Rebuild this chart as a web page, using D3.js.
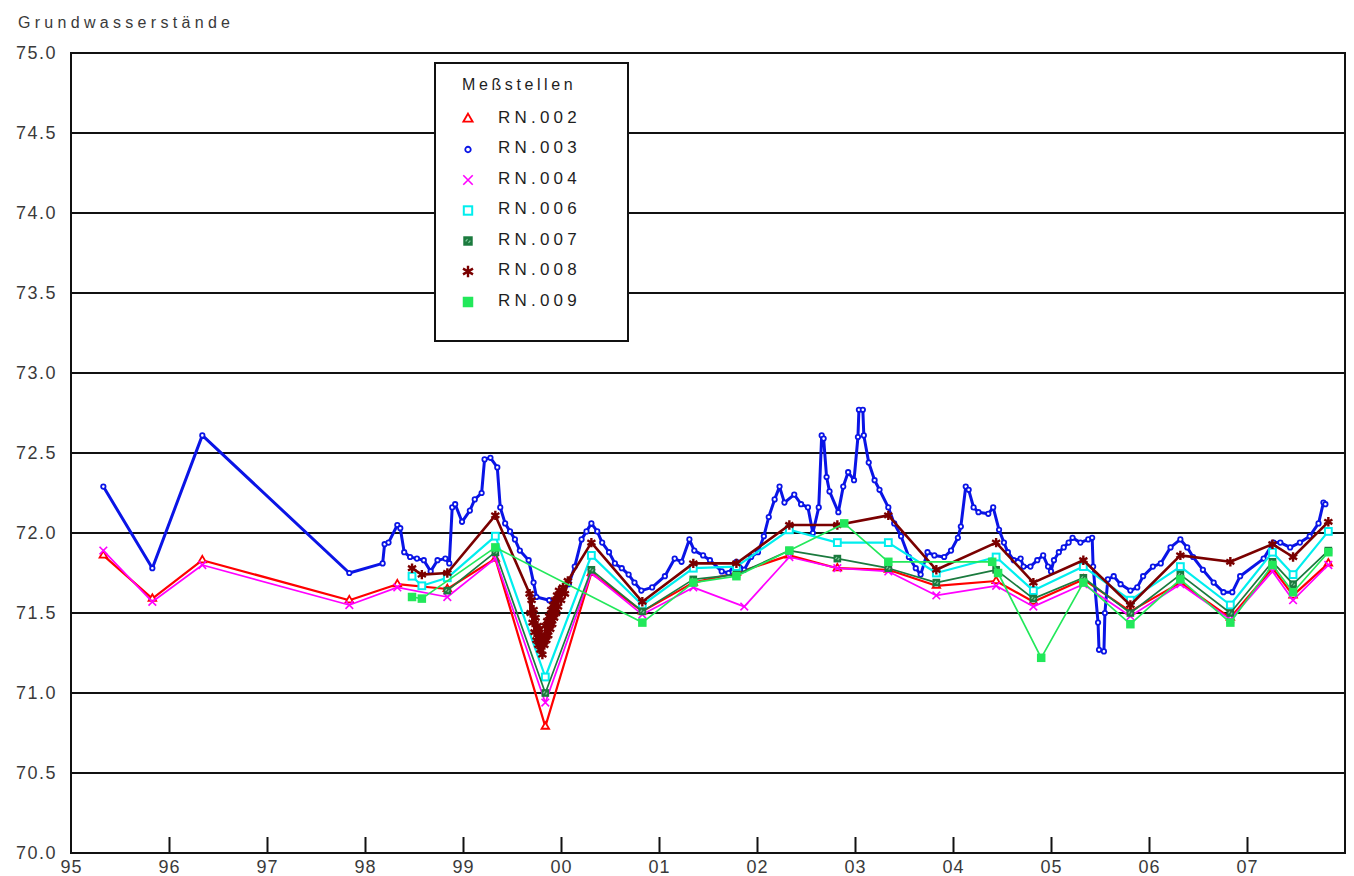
<!DOCTYPE html>
<html>
<head>
<meta charset="utf-8">
<script src="https://cdn.jsdelivr.net/npm/d3@7"></script>
<style>
  html, body { margin: 0; padding: 0; background: #fff; }
  svg { display: block; }
  text { font-family: "Liberation Sans", Arial, sans-serif; }
</style>
</head>
<body>
<svg id="chart" width="1354" height="876"></svg>
<script>
// Groundwater levels per measuring point: [decimal year, level]
const rn002 = [[1995.33,71.86],[1995.83,71.59],[1996.34,71.83],[1997.84,71.58],[1998.33,71.68],[1998.84,71.65],[1999.33,71.84],[1999.84,70.79],[2000.31,71.75],[2000.83,71.51],[2001.35,71.69],[2001.79,71.75],[2002.33,71.86],[2002.82,71.78],[2003.34,71.77],[2003.83,71.67],[2004.44,71.70],[2004.82,71.57],[2005.33,71.71],[2005.81,71.51],[2006.32,71.69],[2006.83,71.47],[2007.26,71.78],[2007.47,71.61],[2007.83,71.81]];

const rn003 = [[1995.33,72.29],[1995.83,71.78],[1996.34,72.61],[1997.84,71.75],[1998.18,71.81],[1998.20,71.93],[1998.24,71.94],[1998.33,72.05],[1998.36,72.03],[1998.40,71.88],[1998.46,71.85],[1998.53,71.84],[1998.60,71.83],[1998.67,71.76],[1998.74,71.83],[1998.82,71.84],[1998.86,71.81],[1998.89,72.16],[1998.92,72.18],[1998.99,72.07],[1999.07,72.14],[1999.12,72.21],[1999.19,72.25],[1999.22,72.46],[1999.28,72.47],[1999.35,72.41],[1999.38,72.16],[1999.43,72.06],[1999.48,72.01],[1999.53,71.96],[1999.58,71.89],[1999.67,71.83],[1999.72,71.69],[1999.75,71.60],[1999.88,71.58],[1999.94,71.57],[2000.01,71.63],[2000.08,71.68],[2000.14,71.79],[2000.21,71.96],[2000.26,72.01],[2000.31,72.06],[2000.37,72.01],[2000.42,71.94],[2000.49,71.88],[2000.55,71.81],[2000.62,71.78],[2000.69,71.74],[2000.75,71.69],[2000.82,71.64],[2000.93,71.66],[2001.06,71.73],[2001.16,71.84],[2001.23,71.82],[2001.31,71.96],[2001.36,71.89],[2001.45,71.86],[2001.52,71.83],[2001.64,71.76],[2001.71,71.75],[2001.79,71.82],[2001.87,71.77],[2001.94,71.85],[2002.01,71.88],[2002.07,71.98],[2002.12,72.10],[2002.18,72.21],[2002.23,72.29],[2002.28,72.19],[2002.38,72.24],[2002.45,72.18],[2002.52,72.16],[2002.57,72.00],[2002.63,72.16],[2002.66,72.61],[2002.68,72.59],[2002.71,72.35],[2002.74,72.26],[2002.83,72.13],[2002.88,72.29],[2002.93,72.38],[2002.99,72.33],[2003.03,72.60],[2003.04,72.77],[2003.08,72.77],[2003.09,72.61],[2003.14,72.44],[2003.20,72.33],[2003.25,72.27],[2003.34,72.16],[2003.40,72.06],[2003.47,71.98],[2003.55,71.85],[2003.62,71.78],[2003.67,71.74],[2003.74,71.88],[2003.81,71.86],[2003.91,71.85],[2003.98,71.89],[2004.05,71.97],[2004.08,72.04],[2004.13,72.29],[2004.16,72.27],[2004.21,72.16],[2004.26,72.13],[2004.36,72.12],[2004.41,72.16],[2004.47,72.02],[2004.52,71.94],[2004.56,71.88],[2004.62,71.83],[2004.69,71.84],[2004.72,71.79],[2004.79,71.79],[2004.86,71.83],[2004.92,71.86],[2004.97,71.79],[2005.00,71.76],[2005.03,71.83],[2005.08,71.88],[2005.13,71.91],[2005.18,71.94],[2005.22,71.97],[2005.30,71.94],[2005.38,71.96],[2005.42,71.97],[2005.43,71.79],[2005.48,71.44],[2005.49,71.27],[2005.54,71.26],[2005.55,71.50],[2005.58,71.71],[2005.64,71.73],[2005.71,71.68],[2005.81,71.64],[2005.88,71.66],[2005.94,71.73],[2006.04,71.79],[2006.12,71.81],[2006.22,71.91],[2006.32,71.96],[2006.39,71.91],[2006.45,71.85],[2006.55,71.77],[2006.66,71.69],[2006.76,71.63],[2006.85,71.63],[2006.93,71.73],[2007.17,71.84],[2007.27,71.94],[2007.34,71.94],[2007.44,71.91],[2007.54,71.94],[2007.64,71.98],[2007.73,72.06],[2007.78,72.19],[2007.80,72.18]];

const rn004 = [[1995.33,71.89],[1995.83,71.57],[1996.34,71.80],[1997.84,71.55],[1998.33,71.66],[1998.84,71.60],[1999.33,71.84],[1999.84,70.94],[2000.31,71.75],[2000.83,71.49],[2001.35,71.66],[2001.87,71.54],[2002.33,71.85],[2002.82,71.78],[2003.34,71.76],[2003.83,71.61],[2004.44,71.67],[2004.82,71.54],[2005.33,71.68],[2005.81,71.48],[2006.32,71.68],[2006.83,71.46],[2007.26,71.76],[2007.47,71.58],[2007.83,71.80]];

const rn006 = [[1998.48,71.73],[1998.58,71.67],[1998.84,71.72],[1999.33,71.98],[1999.84,71.10],[2000.31,71.86],[2000.83,71.55],[2001.35,71.78],[2001.79,71.79],[2002.33,72.02],[2002.82,71.94],[2003.34,71.94],[2003.83,71.75],[2004.44,71.85],[2004.82,71.64],[2005.33,71.79],[2005.81,71.58],[2006.32,71.79],[2006.83,71.55],[2007.26,71.88],[2007.47,71.74],[2007.83,72.01]];

const rn007 = [[1998.84,71.64],[1999.33,71.88],[1999.84,71.00],[2000.31,71.77],[2000.83,71.51],[2001.35,71.71],[2001.79,71.74],[2002.33,71.89],[2002.82,71.84],[2003.34,71.78],[2003.83,71.69],[2004.44,71.77],[2004.82,71.59],[2005.33,71.72],[2005.81,71.50],[2006.32,71.74],[2006.83,71.50],[2007.26,71.82],[2007.47,71.68],[2007.83,71.89]];

const rn008 = [[1998.48,71.78],[1998.58,71.74],[1998.84,71.75],[1999.33,72.11],[1999.68,71.62],[1999.69,71.50],[1999.70,71.58],[1999.71,71.44],[1999.72,71.52],[1999.73,71.38],[1999.74,71.47],[1999.75,71.33],[1999.76,71.42],[1999.77,71.30],[1999.78,71.40],[1999.79,71.27],[1999.80,71.36],[1999.81,71.24],[1999.82,71.35],[1999.83,71.30],[1999.84,71.42],[1999.85,71.33],[1999.86,71.45],[1999.87,71.36],[1999.88,71.48],[1999.89,71.40],[1999.90,71.52],[1999.91,71.43],[1999.92,71.55],[1999.93,71.47],[1999.94,71.58],[1999.95,71.50],[1999.96,71.61],[1999.97,71.54],[1999.98,71.64],[2000.00,71.58],[2000.02,71.66],[2000.04,71.62],[2000.07,71.70],[2000.31,71.94],[2000.83,71.57],[2001.35,71.81],[2001.79,71.81],[2002.33,72.05],[2002.82,72.05],[2003.34,72.11],[2003.83,71.77],[2004.44,71.94],[2004.82,71.69],[2005.33,71.83],[2005.81,71.55],[2006.32,71.86],[2006.83,71.82],[2007.26,71.93],[2007.47,71.85],[2007.83,72.07]];

const rn009 = [[1998.48,71.60],[1998.58,71.59],[1999.33,71.91],[2000.83,71.44],[2001.35,71.69],[2001.79,71.73],[2002.33,71.89],[2002.89,72.06],[2003.34,71.82],[2004.40,71.82],[2004.46,71.75],[2004.90,71.22],[2005.33,71.69],[2005.81,71.43],[2006.32,71.71],[2006.83,71.44],[2007.26,71.80],[2007.47,71.63],[2007.83,71.88]];

const stationNames = ["RN.002", "RN.003", "RN.004", "RN.006", "RN.007", "RN.008", "RN.009"];
const yearTicks = [1995, 1996, 1997, 1998, 1999, 2000, 2001, 2002, 2003, 2004, 2005, 2006, 2007];
const yearLabels = ["95", "96", "97", "98", "99", "00", "01", "02", "03", "04", "05", "06", "07"];
const levelTicks = [70.0, 70.5, 71.0, 71.5, 72.0, 72.5, 73.0, 73.5, 74.0, 74.5, 75.0];

const series = [
  { name: stationNames[0], data: rn002, color: "#ff0000", width: 2.2, marker: "triangle" },
  { name: stationNames[1], data: rn003, color: "#0a14e6", width: 3,   marker: "circle" },
  { name: stationNames[2], data: rn004, color: "#ff00ff", width: 1.7, marker: "x" },
  { name: stationNames[3], data: rn006, color: "#00eeee", width: 2.2, marker: "openSquare" },
  { name: stationNames[4], data: rn007, color: "#1b7a3e", width: 1.7, marker: "patternSquare" },
  { name: stationNames[5], data: rn008, color: "#7a0000", width: 2.6, marker: "star" },
  { name: stationNames[6], data: rn009, color: "#22e85a", width: 1.7, marker: "filledSquare" }
];

const plot = { left: 71, right: 1345, top: 53, bottom: 853 };
const svg = d3.select("#chart");

const x = d3.scaleLinear().domain([1995, 2008]).range([plot.left, plot.right]);
const y = d3.scaleLinear().domain([70, 75]).range([plot.bottom, plot.top]);

const labelFont = "Liberation Sans, Arial, sans-serif";

// horizontal grid lines
svg.append("g")
  .selectAll("line")
  .data(levelTicks.filter(v => v > 70 && v < 75))
  .join("line")
  .attr("x1", plot.left).attr("x2", plot.right)
  .attr("y1", d => y(d)).attr("y2", d => y(d))
  .attr("stroke", "#111").attr("stroke-width", 2);

// frame
svg.append("rect")
  .attr("x", plot.left).attr("y", plot.top)
  .attr("width", plot.right - plot.left).attr("height", plot.bottom - plot.top)
  .attr("fill", "none").attr("stroke", "#111").attr("stroke-width", 2);

// x axis: inward ticks with two-digit year labels
const xAxis = d3.axisBottom(x)
  .tickValues(yearTicks)
  .tickFormat((d, i) => yearLabels[i])
  .tickSizeInner(-16).tickSizeOuter(0).tickPadding(0);
const gx = svg.append("g").attr("transform", `translate(0,${plot.bottom})`).call(xAxis);
gx.select(".domain").remove();
gx.selectAll(".tick line").attr("stroke", "#111").attr("stroke-width", 2)
  .attr("display", d => d === 1995 ? "none" : null);
gx.selectAll(".tick text")
  .attr("font-family", labelFont).attr("font-size", 18)
  .attr("fill", "#3a3a3a").attr("letter-spacing", 1)
  .attr("y", 20).attr("dy", 0);

// y axis labels
const yAxis = d3.axisLeft(y)
  .tickValues(levelTicks)
  .tickFormat(d3.format(".1f"))
  .tickSize(0).tickPadding(14);
const gy = svg.append("g").attr("transform", `translate(${plot.left},0)`).call(yAxis);
gy.select(".domain").remove();
gy.selectAll(".tick text")
  .attr("font-family", labelFont).attr("font-size", 18)
  .attr("fill", "#3a3a3a").attr("letter-spacing", 1.5);

// title
svg.append("text")
  .attr("x", 18).attr("y", 28)
  .attr("font-family", labelFont).attr("font-size", 16)
  .attr("letter-spacing", 4.3).attr("fill", "#3a3a3a")
  .text("Grundwasserstände");

// marker drawing
function drawMarker(g, type, color, scale = 1) {
  const s = scale;
  if (type === "triangle") {
    g.append("path").attr("d", d3.symbol(d3.symbolTriangle, 34 * s * s)())
      .attr("fill", "#fff").attr("stroke", color).attr("stroke-width", 1.8);
  } else if (type === "circle") {
    g.append("circle").attr("r", 2.6 * s)
      .attr("fill", "#fff").attr("stroke", color).attr("stroke-width", 1.8);
  } else if (type === "x") {
    const r = 4.5 * s;
    g.append("path").attr("d", `M${-r},${-r}L${r},${r}M${-r},${r}L${r},${-r}`)
      .attr("stroke", color).attr("stroke-width", 1.6).attr("fill", "none");
  } else if (type === "openSquare") {
    const r = 4 * s;
    g.append("rect").attr("x", -r).attr("y", -r).attr("width", 2 * r).attr("height", 2 * r)
      .attr("fill", "#fff").attr("stroke", color).attr("stroke-width", 2);
  } else if (type === "patternSquare") {
    const r = 4.5 * s;
    g.append("rect").attr("x", -r).attr("y", -r).attr("width", 2 * r).attr("height", 2 * r)
      .attr("fill", color);
    g.append("path").attr("d", `M${-r * 0.5},${r * 0.1}L${-r * 0.1},${-r * 0.4}M${r * 0.5},${-r * 0.1}L${r * 0.1},${r * 0.4}`)
      .attr("stroke", "#7fc79a").attr("stroke-width", 1.2);
  } else if (type === "star") {
    const r = 5.5 * s;
    let d = "";
    for (let k = 0; k < 3; k++) {
      const a = Math.PI / 2 + k * Math.PI / 3;
      d += `M${-r * Math.cos(a)},${-r * Math.sin(a)}L${r * Math.cos(a)},${r * Math.sin(a)}`;
    }
    g.append("path").attr("d", d).attr("stroke", color).attr("stroke-width", 2.4).attr("fill", "none");
  } else if (type === "filledSquare") {
    const r = 5 * s;
    g.append("rect").attr("x", -r).attr("y", -r).attr("width", 2 * r).attr("height", 2 * r)
      .attr("fill", color);
  }
}

// series lines and point markers
const line = d3.line().x(d => x(d[0])).y(d => y(d[1]));
const seriesLayer = svg.append("g");
series.forEach(s => {
  const g = seriesLayer.append("g");
  g.append("path").datum(s.data)
    .attr("d", line)
    .attr("fill", "none").attr("stroke", s.color)
    .attr("stroke-width", s.width).attr("stroke-linejoin", "round");
  g.selectAll("g.pt").data(s.data).join("g")
    .attr("class", "pt")
    .attr("transform", d => `translate(${x(d[0])},${y(d[1])})`)
    .each(function () { drawMarker(d3.select(this), s.marker, s.color, 0.85); });
});

// legend
const legend = svg.append("g");
legend.append("rect")
  .attr("x", 435).attr("y", 63).attr("width", 193).attr("height", 278)
  .attr("fill", "#fff").attr("stroke", "#111").attr("stroke-width", 2);
legend.append("text")
  .attr("x", 462).attr("y", 84).attr("dy", "0.35em")
  .attr("font-family", labelFont).attr("font-size", 16)
  .attr("letter-spacing", 3.6).attr("fill", "#1e1e1e")
  .text("Meßstellen");
series.forEach((s, i) => {
  const cy = 117 + i * 30.5;
  const m = legend.append("g").attr("transform", `translate(468,${cy + 2})`);
  drawMarker(m, s.marker, s.color, 1.05);
  legend.append("text")
    .attr("x", 498).attr("y", cy).attr("dy", "0.35em")
    .attr("font-family", labelFont).attr("font-size", 17)
    .attr("letter-spacing", 4.2).attr("fill", "#1e1e1e")
    .text(s.name);
});
</script>
</body>
</html>
